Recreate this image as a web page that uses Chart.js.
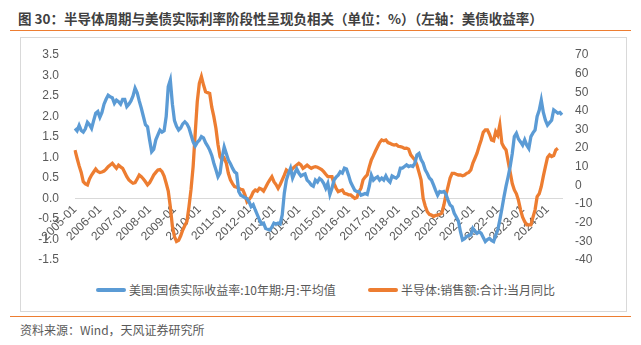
<!DOCTYPE html>
<html>
<head>
<meta charset="utf-8">
<script src="https://cdn.jsdelivr.net/npm/chart.js@4.4.0/dist/chart.umd.min.js"></script>
<style>
  html, body { margin: 0; padding: 0; background: #fff; }
  body { width: 641px; height: 345px; position: relative; overflow: hidden;
         font-family: "Noto Sans CJK SC", "Liberation Sans", sans-serif; }
  .title { position: absolute; left: 18px; top: 8px; font-size: 13.5px; font-weight: bold; color: #404040; white-space: nowrap; }
  .rule { position: absolute; left: 10px; width: 621px; height: 0; border-top: 1.5px solid #ED7D31; }
  .frame { position: absolute; left: 20px; top: 37px; width: 605px; height: 273px; border: 1px solid #d9d9d9; }
  .legend { position: absolute; top: 281px; font-size: 12px; color: #595959; white-space: nowrap; display: flex; align-items: center; }
  .legend i { display: inline-block; width: 30px; height: 4px; border-radius: 2px; margin-right: 3px; }
  .source { position: absolute; left: 20px; top: 321px; font-size: 12px; color: #595959; white-space: nowrap; }
  #chart { position: absolute; left: 0; top: 0; }
</style>
</head>
<body>
<div class="title">图 30：半导体周期与美债实际利率阶段性呈现负相关（单位：%）（左轴：美债收益率）</div>
<div class="rule" style="top:30px"></div>
<div class="frame"></div>
<div class="legend" style="left:96px"><i style="background:#5B9BD5"></i>美国:国债实际收益率:10年期:月:平均值</div>
<div class="legend" style="left:368px"><i style="background:#ED7D31"></i>半导体:销售额:合计:当月同比</div>
<div class="rule" style="top:316px"></div>
<div class="source">资料来源：Wind，天风证券研究所</div>
<canvas id="chart" width="641" height="345"></canvas>
<script>
// 月度区间 2005-01 ~ 2024-08
const firstYear = 2005;
const lastYear = 2024;
const lastMonth = 8;

// 美国:国债实际收益率:10年期:月:平均值 (%)
const realYield = [
  1.71, 1.65, 1.78, 1.66, 1.62, 1.70, 1.86, 1.80, 1.71, 1.90, 2.08, 2.12,
  1.98, 2.10, 2.30, 2.42, 2.52, 2.48, 2.46, 2.32, 2.40, 2.36, 2.30, 2.42,
  2.42, 2.24, 2.30, 2.38, 2.50, 2.69, 2.58, 2.38, 2.20, 2.00, 1.80, 1.75,
  1.43, 1.14, 1.20, 1.43, 1.55, 1.67, 1.62, 1.65, 2.00, 2.73, 2.89, 2.30,
  1.90, 1.76, 1.67, 1.72, 1.82, 1.87, 1.82, 1.72, 1.55, 1.38, 1.28, 1.37,
  1.42, 1.51, 1.48, 1.36, 1.28, 1.18, 1.05, 0.86, 0.70, 0.53, 0.62, 1.00,
  1.26, 1.10, 0.94, 0.85, 0.74, 0.65, 0.61, 0.17, 0.08, 0.05, 0.02, 0.00,
  -0.08, -0.20, -0.15, -0.28, -0.40, -0.52, -0.62, -0.60, -0.73, -0.75, -0.77, -0.70,
  -0.60, -0.62, -0.60, -0.62, -0.40, 0.13, 0.45, 0.61, 0.74, 0.50, 0.62, 0.72,
  0.62, 0.55, 0.58, 0.60, 0.45, 0.40, 0.33, 0.30, 0.45, 0.40, 0.49, 0.45,
  0.37, 0.25, 0.37, 0.10, 0.25, 0.45, 0.52, 0.57, 0.65, 0.62, 0.74, 0.72,
  0.57, 0.40, 0.30, 0.20, 0.17, 0.17, 0.08, 0.10, 0.12, 0.10, 0.30, 0.57,
  0.45, 0.50, 0.53, 0.45, 0.50, 0.45, 0.55, 0.45, 0.40, 0.55, 0.52, 0.50,
  0.55, 0.74, 0.74, 0.78, 0.82, 0.78, 0.80, 0.78, 0.86, 1.06, 1.10, 0.95,
  0.86, 0.70, 0.61, 0.50, 0.45, 0.33, 0.20, 0.08, 0.17, 0.15, 0.17, 0.10,
  -0.04, -0.16, -0.20, -0.36, -0.45, -0.55, -0.81, -1.01, -0.98, -0.93, -0.90, -0.89,
  -0.73, -0.80, -0.85, -0.81, -0.85, -0.95, -1.05, -1.00, -0.97, -1.02, -1.05, -0.90,
  -0.77, -0.52, -0.25, 0.04, 0.30, 0.53, 0.78, 1.10, 1.51, 1.59, 1.45, 1.38,
  1.30, 1.43, 1.30, 1.22, 1.51, 1.60, 1.67, 2.00, 2.15, 2.40, 2.10, 1.91,
  1.79, 1.85, 1.91, 2.16, 2.12, 2.08, 2.10, 2.04
];

// 半导体:销售额:合计:当月同比 (%)，右轴
const chipSalesYoY = [
  19.0, 14.6, 10.5, 7.0, 2.0, 0.8, 0.3, 3.5, 5.6, 7.2, 8.8, 7.5,
  6.9, 7.2, 7.7, 8.8, 10.1, 11.0, 11.9, 10.5, 9.2, 10.9, 10.0, 9.2,
  7.0, 4.7, 3.0, 2.0, 1.2, 1.5, 3.5, 5.6, 4.7, 3.5, 2.0, 0.3,
  1.5, 3.5, 5.6, 7.0, 8.3, 8.5, 7.4, 5.0, 1.2, -3.0, -11.4, -22.0,
  -27.4, -30.1, -29.5, -27.0, -23.9, -21.5, -19.4, -11.4, -2.0, 10.1, 28.0, 45.0,
  54.8, 58.4, 54.0, 50.3, 49.8, 49.4, 42.0, 36.9, 30.7, 22.0, 15.5, 13.7,
  14.6, 12.0, 6.5, 3.0, 1.0, -0.6, -1.0, -1.5, -2.0, -2.4, -5.0, -8.7,
  -7.5, -6.0, -3.5, -2.4, -3.0, -1.5, -2.0, -3.0, -1.0, 1.2, 3.0, 4.7,
  2.0, 0.5, -1.5, 0.5, 3.0, 5.5, 8.3, 7.4, 7.4, 9.0, 10.1, 11.0,
  11.9, 11.0, 9.2, 10.0, 10.9, 10.0, 9.2, 9.8, 10.1, 9.8, 9.2, 8.5,
  7.4, 6.0, 4.7, 4.7, 4.7, 1.0, -1.5, -3.3, -2.8, -2.4, -4.2, -4.5,
  -5.0, -5.1, -6.0, -6.9, -6.5, -3.5, -1.5, 3.0, 4.5, 5.6, 10.0, 13.7,
  16.0, 18.5, 20.8, 23.0, 24.4, 24.0, 24.4, 23.0, 22.6, 22.0, 21.7, 22.0,
  21.0, 20.8, 20.5, 19.9, 20.0, 19.5, 16.4, 15.0, 13.7, 11.0, 7.0, 3.0,
  -7.0, -11.0, -14.1, -15.5, -15.9, -16.7, -16.0, -15.9, -15.5, -14.9, -10.5, -5.0,
  -0.6, 4.0, 6.5, 6.5, 6.0, 5.6, 5.6, 5.2, 5.6, 6.5, 7.0, 8.3,
  12.0, 14.6, 17.3, 21.0, 24.4, 28.5, 29.8, 29.8, 27.5, 24.4, 24.0, 28.9,
  27.0, 32.5, 22.6, 20.5, 19.0, 13.0, 7.0, 1.0, -2.4, -4.5, -8.0, -13.1,
  -17.0, -19.4, -21.2, -21.2, -21.2, -17.0, -13.1, -6.0, -4.5, -0.6, 5.0, 10.1,
  15.0, 16.4, 15.5, 16.0, 19.0, 19.9
];

// 坐标轴范围
const leftAxis = { min: -1.5, max: 3.5, step: 0.5 };
const rightAxis = { min: -40, max: 70, step: 10 };

// 生成 yyyy-mm 标签
const months = [];
for (let y = firstYear; y <= lastYear; y++) {
  const end = y === lastYear ? lastMonth : 12;
  for (let m = 1; m <= end; m++) {
    months.push(y + '-' + String(m).padStart(2, '0'));
  }
}

const tickFont = { family: '"Liberation Sans", Arial, sans-serif', size: 12 };
const tickColor = '#595959';

new Chart(document.getElementById('chart'), {
  type: 'line',
  data: {
    labels: months,
    datasets: [
      {
        label: '美国:国债实际收益率:10年期:月:平均值',
        data: realYield,
        yAxisID: 'y',
        borderColor: '#5B9BD5',
        borderWidth: 3.3,
        pointRadius: 0,
        tension: 0
      },
      {
        label: '半导体:销售额:合计:当月同比',
        data: chipSalesYoY,
        yAxisID: 'y1',
        borderColor: '#ED7D31',
        borderWidth: 3.3,
        pointRadius: 0,
        tension: 0
      }
    ]
  },
  options: {
    responsive: false,
    animation: false,
    devicePixelRatio: 1,
    layout: { padding: { top: 55, bottom: 85, left: 0, right: 0 } },
    plugins: { legend: { display: false }, tooltip: { enabled: false } },
    scales: {
      x: {
        position: { y: 0 },
        grid: { display: false, drawTicks: false },
        border: { display: true, color: '#d9d9d9', width: 1 },
        ticks: {
          autoSkip: false,
          minRotation: 45,
          maxRotation: 45,
          padding: 4,
          color: tickColor,
          font: tickFont,
          callback: function (v, i) {
            return i % 12 === 0 ? this.getLabelForValue(v) : null;
          }
        }
      },
      y: {
        position: 'left',
        min: leftAxis.min,
        max: leftAxis.max,
        grid: { display: false, drawTicks: false },
        border: { display: false },
        afterFit: s => { s.width = 75; },
        ticks: {
          stepSize: leftAxis.step,
          padding: 16,
          color: tickColor,
          font: tickFont,
          callback: v => v.toFixed(1)
        }
      },
      y1: {
        position: 'right',
        min: rightAxis.min,
        max: rightAxis.max,
        grid: { display: false, drawTicks: false },
        border: { display: false },
        afterFit: s => { s.width = 79; },
        ticks: {
          stepSize: rightAxis.step,
          padding: 13,
          color: tickColor,
          font: tickFont
        }
      }
    }
  }
});
</script>
</body>
</html>
